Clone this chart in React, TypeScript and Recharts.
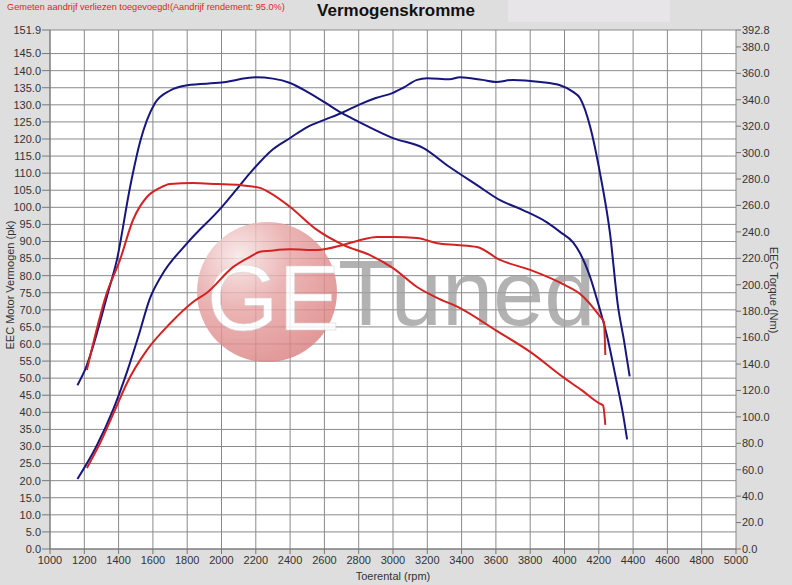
import React from "react";
import {
  LineChart,
  Line,
  XAxis,
  YAxis,
  CartesianGrid,
  Customized,
} from "recharts";

// blue = tuned, red = stock
const BLUE_POWER_RPM = [1160, 1270, 1370, 1450, 1520, 1580, 1650, 1800, 2000, 2100, 2166, 2300, 2400, 2500, 2600, 2700, 2800, 2900, 3000, 3060, 3140, 3200, 3330, 3390, 3520, 3600, 3700, 3860, 3970, 4050, 4090, 4150, 4207, 4265, 4312, 4347, 4380];
const BLUE_POWER_PK = [20.5, 30, 41, 52, 63, 73, 80, 89.5, 100, 106, 110, 117, 120.3, 123.5, 125.6, 127.6, 130, 132, 133.5, 135, 137.3, 137.8, 137.5, 138.1, 137.3, 136.7, 137.3, 136.7, 135.8, 133.8, 132, 123.5, 110, 92.5, 71, 61, 50.5];

const BLUE_TORQUE_RPM = [1160, 1204, 1338, 1390, 1467, 1525, 1610, 1700, 1800, 2000, 2200, 2300, 2400, 2500, 2600, 2700, 2800, 3000, 3175, 3330, 3490, 3624, 3758, 3900, 3974, 4050, 4090, 4149, 4196, 4250, 4300, 4340, 4365];
const BLUE_TORQUE_NM = [124, 135.5, 194, 218.8, 274, 308, 337, 347, 351, 353, 357, 356, 352.7, 346, 338.2, 330, 323.3, 311, 303.6, 289.1, 275.4, 264, 256.5, 247, 240, 232, 224, 206, 186, 160, 129, 103, 83];

const RED_POWER_RPM = [1215, 1292, 1379, 1449, 1565, 1700, 1834, 1915, 2067, 2166, 2224, 2283, 2400, 2557, 2709, 2800, 2907, 3000, 3140, 3257, 3373, 3490, 3624, 3800, 4000, 4100, 4200, 4230, 4238];
const RED_POWER_PK = [23.7, 31, 40.7, 48.6, 58.2, 66, 72.3, 75, 82.5, 85.5, 87, 87.3, 87.7, 87.5, 89, 90.3, 91.3, 91.3, 91, 89.5, 89, 88.4, 84.6, 81.7, 77.3, 74.3, 68.5, 66.4, 56.8];

const RED_TORQUE_RPM = [1215, 1332, 1408, 1484, 1565, 1641, 1700, 1834, 1974, 2108, 2224, 2283, 2400, 2557, 2709, 2866, 3000, 3140, 3257, 3391, 3600, 3800, 4000, 4100, 4200, 4225, 4238];
const RED_TORQUE_NM = [135.5, 194, 218.8, 249, 266.4, 273.3, 276.2, 277, 276.2, 275.4, 273.3, 269.5, 258.9, 241.5, 230.2, 222.4, 212.6, 198.3, 190.1, 182.3, 165.5, 149.2, 129.3, 120.2, 110.4, 108.6, 93.9];

const RPM_TICKS = [1000, 1200, 1400, 1600, 1800, 2000, 2200, 2400, 2600, 2800, 3000, 3200, 3400, 3600, 3800, 4000, 4200, 4400, 4600, 4800, 5000];
const PK_TICKS = [0, 5, 10, 15, 20, 25, 30, 35, 40, 45, 50, 55, 60, 65, 70, 75, 80, 85, 90, 95, 100, 105, 110, 115, 120, 125, 130, 135, 140, 145, 151.9];
const NM_TICKS = [0, 20, 40, 60, 80, 100, 120, 140, 160, 180, 200, 220, 240, 260, 280, 300, 320, 340, 360, 380, 392.8];

const toRows = (rpm: number[], vals: number[]) => rpm.map((r, i) => ({ rpm: r, v: vals[i] }));

const FONT = "'Liberation Sans', Arial, sans-serif";
const BLUE = "#16167e";
const RED = "#d42222";
const tickStyle = { fill: "#333", fontSize: 11, fontFamily: FONT };

function Watermark() {
  return (
    <g opacity={0.82}>
      <defs>
        <radialGradient id="wm" cx="0.3" cy="0.25" r="0.8">
          <stop offset="0%" stopColor="#f8e6e6" />
          <stop offset="45%" stopColor="#e8a6a6" />
          <stop offset="100%" stopColor="#dc8282" />
        </radialGradient>
      </defs>
      <circle cx={267} cy={292} r={70} fill="url(#wm)" />
      <text x={207} y={330} fontSize={92} fontFamily={FONT} fill="#fff" stroke="#ccc" strokeWidth={0.5}>
        GE
      </text>
      <text x={338} y={325} fontSize={92} fontFamily={FONT} fill="#a2a2a2">
        Tuned
      </text>
    </g>
  );
}

export default function App() {
  return (
    <div style={{ position: "absolute", left: 0, top: 0, width: 792, height: 585, background: "#dedede", fontFamily: FONT }}>
      <div style={{ position: "absolute", left: 508, top: 0, width: 162, height: 22, background: "#e7e5e7" }} />
      <div style={{ position: "absolute", left: 7, top: 2, fontSize: 9.2, color: "#e02424" }}>
        Gemeten aandrijf verliezen toegevoegd!(Aandrijf rendement: 95.0%)
      </div>
      <div style={{ position: "absolute", left: 0, width: 792, top: 1, textAlign: "center", fontSize: 17, fontWeight: "bold", color: "#111" }}>
        Vermogenskromme
      </div>
      <div style={{ position: "absolute", left: 0, top: 0 }}>
        <LineChart width={792} height={585} margin={{ top: 30, right: 0, bottom: 0, left: 0 }}>
          <CartesianGrid yAxisId="left" stroke="#8a8a8a" fill="#fff" />
          <XAxis
            dataKey="rpm"
            type="number"
            domain={[1000, 5000]}
            ticks={RPM_TICKS}
            interval={0}
            height={36}
            tick={tickStyle}
            tickSize={5}
            tickMargin={2}
            stroke="#777"
            allowDuplicatedCategory={false}
          />
          <YAxis
            yAxisId="left"
            domain={[0, 151.9]}
            ticks={PK_TICKS}
            interval={0}
            width={50}
            tick={tickStyle}
            tickFormatter={(v: number) => v.toFixed(1)}
            tickSize={8}
            tickMargin={1}
            stroke="#777"
          />
          <YAxis
            yAxisId="right"
            orientation="right"
            domain={[0, 392.8]}
            ticks={NM_TICKS}
            interval={0}
            width={56}
            tick={tickStyle}
            tickFormatter={(v: number) => v.toFixed(1)}
            tickSize={5}
            tickMargin={1}
            stroke="#777"
            axisLine={false}
          />
          <Customized component={Watermark} />
          <Line yAxisId="left" data={toRows(BLUE_POWER_RPM, BLUE_POWER_PK)} dataKey="v" type="monotone" stroke={BLUE} strokeWidth={2} dot={false} isAnimationActive={false} />
          <Line yAxisId="right" data={toRows(BLUE_TORQUE_RPM, BLUE_TORQUE_NM)} dataKey="v" type="monotone" stroke={BLUE} strokeWidth={2} dot={false} isAnimationActive={false} />
          <Line yAxisId="left" data={toRows(RED_POWER_RPM, RED_POWER_PK)} dataKey="v" type="monotone" stroke={RED} strokeWidth={2} dot={false} isAnimationActive={false} />
          <Line yAxisId="right" data={toRows(RED_TORQUE_RPM, RED_TORQUE_NM)} dataKey="v" type="monotone" stroke={RED} strokeWidth={2} dot={false} isAnimationActive={false} />
        </LineChart>
      </div>
      <svg width={792} height={585} style={{ position: "absolute", left: 0, top: 0, pointerEvents: "none" }}>
        <text x={393} y={580} textAnchor="middle" fontSize={11} fontFamily={FONT} fill="#333">
          Toerental (rpm)
        </text>
        <text transform="translate(14,285) rotate(-90)" textAnchor="middle" fontSize={11} fontFamily={FONT} fill="#333">
          EEC Motor Vermogen (pk)
        </text>
        <text transform="translate(770,290) rotate(90)" textAnchor="middle" fontSize={11} fontFamily={FONT} fill="#333">
          EEC Torque (Nm)
        </text>
      </svg>
    </div>
  );
}
